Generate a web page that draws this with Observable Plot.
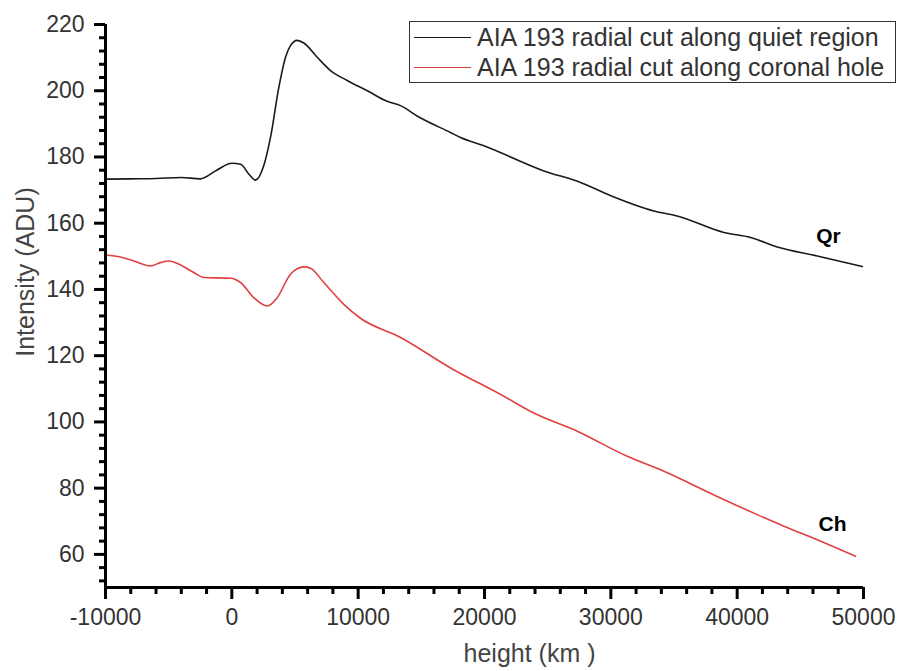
<!DOCTYPE html>
<html>
<head>
<meta charset="utf-8">
<script src="https://cdn.jsdelivr.net/npm/d3@7"></script>
<script src="https://cdn.jsdelivr.net/npm/@observablehq/plot@0.6"></script>
<style>
  html, body { margin: 0; padding: 0; background: #fff; }
  #wrap { position: relative; width: 898px; height: 671px; overflow: hidden; font-family: "Liberation Sans", Arial, sans-serif; }
  #legend { position: absolute; left: 409px; top: 21px; width: 485px; height: 60px; border: 1.5px solid #333; background: #fff; }
  .row { display: flex; align-items: center; height: 30px; font-size: 25px; color: #333; white-space: nowrap; }
  .swatch { width: 57px; height: 0; margin-left: 4px; margin-right: 6px; border-top: 1.5px solid; }
</style>
</head>
<body>
<div id="wrap"></div>
<script>
// Quiet region (Qr) radial cut
const qrHeight = [-10000,-8000,-6000,-4000,-2500,-1200,0,700,1350,1870,2530,3060,3720,4250,4640,5170,5700,6760,7810,9130,10720,12300,13360,14700,17300,18100,19950,24700,27600,30000,33400,35250,38950,41060,43170,46340,49900];
const qrIntensity = [173.3,173.4,173.5,173.8,173.4,176.0,178.1,177.8,174.8,173.0,177.4,185.9,201.0,210.1,213.6,215.2,214.4,210.1,206.1,203.1,200.0,196.8,195.5,192.3,187.4,185.9,183.4,175.8,172.3,168.3,163.7,162.2,157.2,155.7,152.8,150.1,146.9];

// Coronal hole (Ch) radial cut
const chHeight = [-10000,-8810,-7760,-6440,-5650,-4990,-4060,-3010,-2220,-110,690,1740,2800,3590,4640,5700,6230,7280,8860,10180,13360,17310,21270,23900,27340,31300,34200,38420,41590,43700,46340,49370];
const chIntensity = [150.4,149.8,148.6,147.1,148.1,148.6,147.4,145.1,143.6,143.4,142.1,137.5,135.0,137.5,144.6,146.8,146.4,142.1,135.5,131.3,125.5,116.3,108.3,102.7,97.2,89.6,85.1,77.5,72.0,68.5,64.4,59.4];

const seriesNames = ["AIA 193 radial cut along quiet region", "AIA 193 radial cut along coronal hole"];
const seriesColors = ["#1a1a1a", "#e04040"];

const curveLabels = ["Qr", "Ch"];
const curveLabelHeight = [47230, 47550];
const curveLabelIntensity = [156.2, 69.1];

const xMajorTicks = [-10000, 0, 10000, 20000, 30000, 40000, 50000];
const xMinorTicks = d3.range(-8000, 50000, 2000).filter(v => v % 10000 !== 0);
const yMajorTicks = [60, 80, 100, 120, 140, 160, 180, 200, 220];
const yMinorTicks = d3.range(52, 221, 4).filter(v => v % 20 !== 0);

const xDomain = [-10000, 50000];
const yDomain = [50, 220];

const qr = qrHeight.map((h, i) => ({h, v: qrIntensity[i]}));
const ch = chHeight.map((h, i) => ({h, v: chIntensity[i]}));
const labels = curveLabels.map((t, i) => ({t, h: curveLabelHeight[i], v: curveLabelIntensity[i]}));

const chart = Plot.plot({
  width: 898,
  height: 671,
  marginLeft: 105,
  marginRight: 35,
  marginTop: 24,
  marginBottom: 84,
  style: {fontFamily: "Liberation Sans, Arial, sans-serif", fontSize: "23px", background: "#fff", overflow: "visible"},
  x: {domain: xDomain, axis: null},
  y: {domain: yDomain, axis: null},
  marks: [
    Plot.line(qr, {x: "h", y: "v", stroke: seriesColors[0], strokeWidth: 1.6, curve: "monotone-x"}),
    Plot.line(ch, {x: "h", y: "v", stroke: seriesColors[1], strokeWidth: 1.6, curve: "monotone-x"}),
    Plot.text(labels, {x: "h", y: "v", text: "t", fontWeight: "bold", fontSize: 21, fill: "#000"}),
    Plot.axisX(xMinorTicks, {tickSize: 7, tickFormat: () => "", strokeWidth: 3, stroke: "#000", label: null}),
    Plot.axisX(xMajorTicks, {tickSize: 12, tickPadding: 9, tickFormat: d => String(d), strokeWidth: 3, stroke: "#000", fill: "#333", label: null}),
    Plot.axisY(yMinorTicks, {tickSize: 6, tickFormat: () => "", strokeWidth: 3, stroke: "#000", label: null}),
    Plot.axisY(yMajorTicks, {tickSize: 11, tickPadding: 10, tickFormat: d => String(d), strokeWidth: 3, stroke: "#000", fill: "#333", label: null}),
    Plot.ruleX([xDomain[0]], {y1: yDomain[0], y2: yDomain[1], strokeWidth: 3, stroke: "#000"}),
    Plot.ruleY([yDomain[0]], {x1: xDomain[0], x2: xDomain[1], strokeWidth: 3, stroke: "#000"}),
    Plot.text(["height (km )"], {frameAnchor: "bottom", lineAnchor: "middle", dx: 45, dy: 66, fontSize: 25, fill: "#444"}),
    Plot.text(["Intensity (ADU)"], {frameAnchor: "left", textAnchor: "middle", lineAnchor: "middle", rotate: -90, dx: -80, dy: -34, fontSize: 25, fill: "#444"})
  ]
});

const wrap = document.getElementById("wrap");
wrap.appendChild(chart);

const legend = document.createElement("div");
legend.id = "legend";
seriesNames.forEach((name, i) => {
  const row = document.createElement("div");
  row.className = "row";
  const sw = document.createElement("span");
  sw.className = "swatch";
  sw.style.borderTopColor = seriesColors[i];
  const tx = document.createElement("span");
  tx.textContent = name;
  row.appendChild(sw);
  row.appendChild(tx);
  legend.appendChild(row);
});
wrap.appendChild(legend);
</script>
</body>
</html>
